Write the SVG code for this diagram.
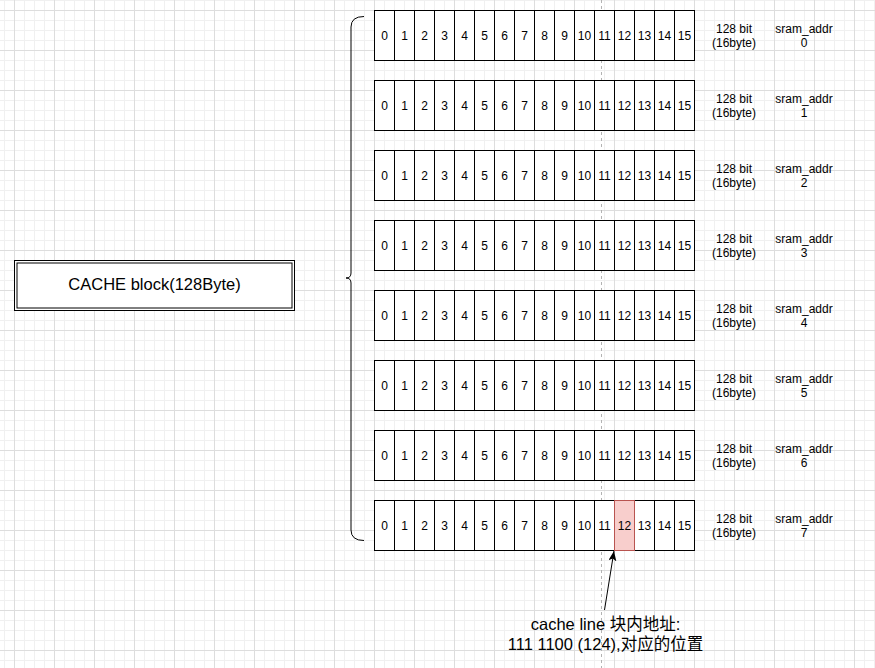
<svg xmlns="http://www.w3.org/2000/svg" width="875" height="668" viewBox="0 0 875 668">
<style>
.cell{fill:#fff;stroke:#000;stroke-width:1}
.hl{fill:#f8cecc;stroke:#b85450;stroke-width:1}
.n{font-family:"Liberation Sans",Arial,sans-serif;font-size:12px;fill:#000;text-anchor:middle}
.lbl{font-family:"Liberation Sans",Arial,sans-serif;font-size:12px;fill:#000;text-anchor:middle}
.big{font-family:"Liberation Sans",Arial,"Noto Sans CJK SC",sans-serif;font-size:16.5px;fill:#000;text-anchor:middle}
.conn{fill:none;stroke:#000;stroke-width:1}
</style>
<defs>
<pattern id="grid" x="14" y="10" width="40" height="40" patternUnits="userSpaceOnUse">
<path d="M10.5 0V40M20.5 0V40M30.5 0V40M0 10.5H40M0 20.5H40M0 30.5H40" stroke="#f0f0f0" stroke-width="1" fill="none"/>
<path d="M0.5 0V40M0 0.5H40" stroke="#dddddd" stroke-width="1" fill="none"/>
</pattern>
<marker id="arr" markerUnits="userSpaceOnUse" markerWidth="10" markerHeight="8" refX="10" refY="4" orient="auto" viewBox="0 0 10 8">
<path d="M0 0L10 4L0 8L2.5 4Z" fill="#000"/>
</marker>
<g id="rowcells">
<rect class="cell" x="0" y="0" width="20" height="50"/><rect class="cell" x="20" y="0" width="20" height="50"/><rect class="cell" x="40" y="0" width="20" height="50"/><rect class="cell" x="60" y="0" width="20" height="50"/>
<rect class="cell" x="80" y="0" width="20" height="50"/><rect class="cell" x="100" y="0" width="20" height="50"/><rect class="cell" x="120" y="0" width="20" height="50"/><rect class="cell" x="140" y="0" width="20" height="50"/>
<rect class="cell" x="160" y="0" width="20" height="50"/><rect class="cell" x="180" y="0" width="20" height="50"/><rect class="cell" x="200" y="0" width="20" height="50"/><rect class="cell" x="220" y="0" width="20" height="50"/>
<rect class="cell" x="240" y="0" width="20" height="50"/><rect class="cell" x="260" y="0" width="20" height="50"/><rect class="cell" x="280" y="0" width="20" height="50"/><rect class="cell" x="300" y="0" width="20" height="50"/>
</g>
<g id="rownums">
<text class="n" x="10" y="29.3">0</text><text class="n" x="30" y="29.3">1</text><text class="n" x="50" y="29.3">2</text><text class="n" x="70" y="29.3">3</text>
<text class="n" x="90" y="29.3">4</text><text class="n" x="110" y="29.3">5</text><text class="n" x="130" y="29.3">6</text><text class="n" x="150" y="29.3">7</text>
<text class="n" x="170" y="29.3">8</text><text class="n" x="190" y="29.3">9</text><text class="n" x="210" y="29.3">10</text><text class="n" x="230" y="29.3">11</text>
<text class="n" x="250" y="29.3">12</text><text class="n" x="270" y="29.3">13</text><text class="n" x="290" y="29.3">14</text><text class="n" x="310" y="29.3">15</text>
</g>
</defs>
<rect x="0" y="0" width="875" height="668" fill="#fff"/>
<rect x="0" y="0" width="875" height="668" fill="url(#grid)"/>
<line x1="601.5" y1="0" x2="601.5" y2="668" stroke="#b3b3b3" stroke-width="1" stroke-dasharray="3 3"/>

<g id="cache-block">
<rect x="14.5" y="260.5" width="280" height="50" fill="#fff" stroke="#000"/>
<rect x="17" y="263" width="275" height="45" fill="none" stroke="#000"/>
<text class="big" x="154.5" y="290">CACHE block(128Byte)</text>
</g>

<g id="brace">
<path class="conn" d="M364 16.5Q351 16.5 351 27L351 273Q351 278 346 278Q351 278 351 283L351 530Q351 540.5 364 540.5"/>
</g>

<g id="row0" transform="translate(374.5 10.5)"><use href="#rowcells"/><use href="#rownums"/></g>
<g id="row1" transform="translate(374.5 80.5)"><use href="#rowcells"/><use href="#rownums"/></g>
<g id="row2" transform="translate(374.5 150.5)"><use href="#rowcells"/><use href="#rownums"/></g>
<g id="row3" transform="translate(374.5 220.5)"><use href="#rowcells"/><use href="#rownums"/></g>
<g id="row4" transform="translate(374.5 290.5)"><use href="#rowcells"/><use href="#rownums"/></g>
<g id="row5" transform="translate(374.5 360.5)"><use href="#rowcells"/><use href="#rownums"/></g>
<g id="row6" transform="translate(374.5 430.5)"><use href="#rowcells"/><use href="#rownums"/></g>
<g id="row7" transform="translate(374.5 500.5)"><use href="#rowcells"/>
<rect class="hl" x="240" y="0" width="20" height="50"/>
<use href="#rownums"/></g>

<g id="labels">
<text class="lbl" x="734" y="33">128 bit</text><text class="lbl" x="734" y="47">(16byte)</text><text class="lbl" x="804" y="33">sram_addr</text><text class="lbl" x="804" y="47">0</text>
<text class="lbl" x="734" y="103">128 bit</text><text class="lbl" x="734" y="117">(16byte)</text><text class="lbl" x="804" y="103">sram_addr</text><text class="lbl" x="804" y="117">1</text>
<text class="lbl" x="734" y="173">128 bit</text><text class="lbl" x="734" y="187">(16byte)</text><text class="lbl" x="804" y="173">sram_addr</text><text class="lbl" x="804" y="187">2</text>
<text class="lbl" x="734" y="243">128 bit</text><text class="lbl" x="734" y="257">(16byte)</text><text class="lbl" x="804" y="243">sram_addr</text><text class="lbl" x="804" y="257">3</text>
<text class="lbl" x="734" y="313">128 bit</text><text class="lbl" x="734" y="327">(16byte)</text><text class="lbl" x="804" y="313">sram_addr</text><text class="lbl" x="804" y="327">4</text>
<text class="lbl" x="734" y="383">128 bit</text><text class="lbl" x="734" y="397">(16byte)</text><text class="lbl" x="804" y="383">sram_addr</text><text class="lbl" x="804" y="397">5</text>
<text class="lbl" x="734" y="453">128 bit</text><text class="lbl" x="734" y="467">(16byte)</text><text class="lbl" x="804" y="453">sram_addr</text><text class="lbl" x="804" y="467">6</text>
<text class="lbl" x="734" y="523">128 bit</text><text class="lbl" x="734" y="537">(16byte)</text><text class="lbl" x="804" y="523">sram_addr</text><text class="lbl" x="804" y="537">7</text>
</g>

<g id="connectors">
<line class="conn" x1="604.5" y1="610" x2="614" y2="551" marker-end="url(#arr)"/>
</g>

<g id="note">
<text class="big" x="605.5" y="629.5">cache line 块内地址:</text>
<text class="big" x="605.5" y="649.5">111 1100 (124),对应的位置</text>
</g>
</svg>
